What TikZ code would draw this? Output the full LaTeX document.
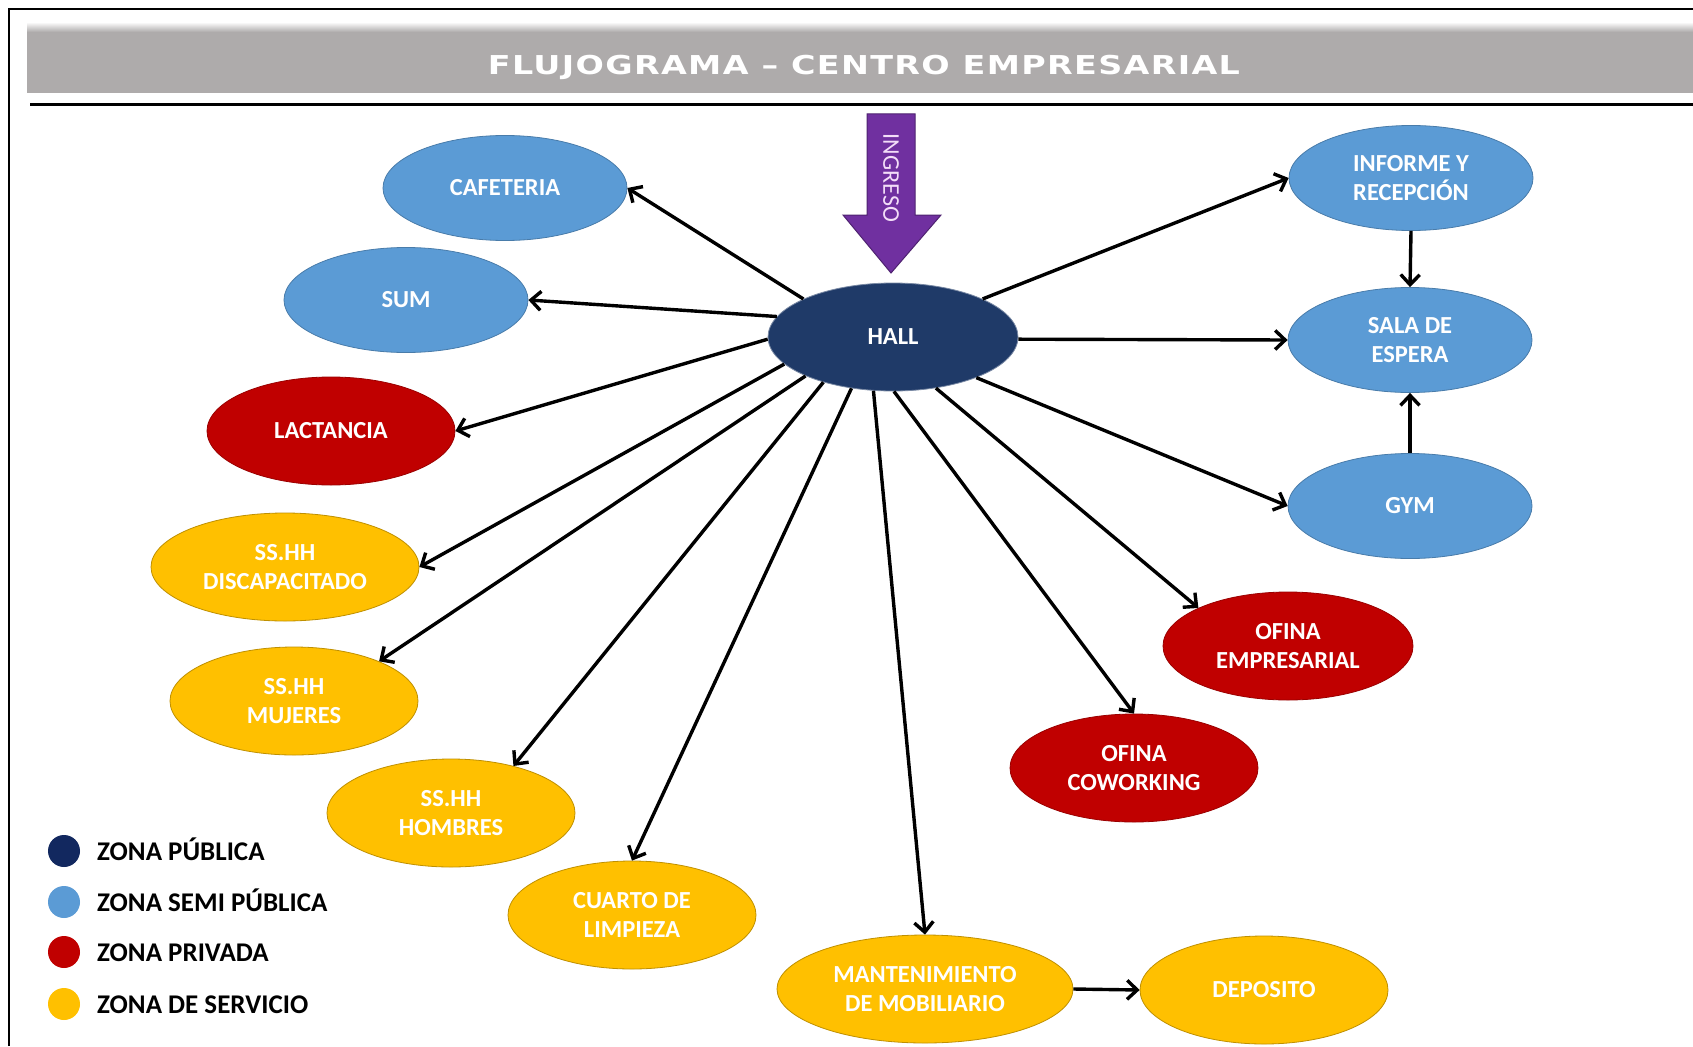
\documentclass[tikz,border=0pt]{standalone}
\usepackage{graphicx}
\usepackage{fontspec}
\setmainfont{Carlito}
\newfontfamily\titlefont[LetterSpace=4]{DejaVu Sans}
\usetikzlibrary{shapes.geometric,arrows.meta}
\definecolor{pubc}{HTML}{12285F}
\definecolor{hallc}{HTML}{1F3A68}
\definecolor{semic}{HTML}{5B9BD5}
\definecolor{privc}{HTML}{C00000}
\definecolor{servc}{HTML}{FFC000}
\definecolor{ingc}{HTML}{7030A0}
\definecolor{ingtext}{HTML}{F3DDF8}
\definecolor{barc}{HTML}{AEABAB}
\begin{document}
\begin{tikzpicture}[x=1pt,y=-1pt,
  zone/.style={ellipse, inner sep=0pt, minimum width=248pt, minimum height=108pt, align=center, text=white, font=\bfseries\fontsize{24.5}{29}\selectfont, line width=0.8pt},
  semi/.style={zone, fill=semic, draw=semic!80!black, minimum width=244pt, minimum height=105pt},
  priv/.style={zone, fill=privc, draw=privc!80!black},
  serv/.style={zone, fill=servc, draw=servc!75!black},
  flow/.style={line width=3.4pt, -{Straight Barb[length=10pt,width=19pt]}},
  legdot/.style={circle, inner sep=0pt, minimum size=32pt},
  legtxt/.style={anchor=base west, inner sep=0pt, font=\bfseries\fontsize{27}{30}\selectfont}
]
\useasboundingbox (0,0) rectangle (1693,1046);
\fill[white] (0,0) rectangle (1693,1046);
% frame
\draw[line width=1.6pt] (9,1046) -- (9,9) -- (1693,9);
% title bar
\shade[top color=white, bottom color=barc] (27,22) rectangle (1693,32);
\fill[barc] (27,32) rectangle (1693,93);
\draw[line width=3pt] (30,105) -- (1693,105);
\node[text=white, inner sep=0pt] (title) at (864,67) {\resizebox{752pt}{\height}{\titlefont\bfseries\fontsize{26}{26}\selectfont FLUJOGRAMA – CENTRO EMPRESARIAL}};
% ingreso arrow
\filldraw[fill=ingc, draw=ingc!70!black, line width=1pt] (867,114) -- (915,114) -- (915,215) -- (941,215) -- (891,273) -- (843,215) -- (867,215) -- cycle;
\node[rotate=-90, text=ingtext, inner sep=0pt, font=\fontsize{24}{24}\selectfont] (ingreso) at (891,178) {INGRESO};
% nodes
\node[zone, fill=hallc, draw=hallc!60!white, minimum width=250pt, minimum height=108pt] (hall) at (893,337) {HALL};
\node[semi] (cafe) at (505,188) {CAFETERIA};
\node[semi] (sum) at (406,300) {SUM};
\node[priv] (lact) at (331,431) {LACTANCIA};
\node[serv, minimum width=268pt] (disc) at (285,567) {SS.HH\\DISCAPACITADO};
\node[serv] (muj) at (294,701) {SS.HH\\MUJERES};
\node[serv] (homb) at (451,813) {SS.HH\\HOMBRES};
\node[serv] (cuarto) at (632,915) {CUARTO DE\\LIMPIEZA};
\node[serv, minimum width=296pt] (mant) at (925,989) {MANTENIMIENTO\\DE MOBILIARIO};
\node[serv] (dep) at (1264,990) {DEPOSITO};
\node[priv] (cow) at (1134,768) {OFINA\\COWORKING};
\node[priv, minimum width=250pt] (emp) at (1288,646) {OFINA\\EMPRESARIAL};
\node[semi] (gym) at (1410,506) {GYM};
\node[semi] (sala) at (1410,340) {SALA DE\\ESPERA};
\node[semi] (inf) at (1411,178) {INFORME Y\\RECEPCIÓN};
% connectors
\draw[flow] (hall.157) -- (cafe.east);
\draw[flow] (hall.170) -- (sum.east);
\draw[flow] (hall.181) -- (lact.east);
\draw[flow] (hall.194) -- (disc.east);
\draw[flow] (hall.204) -- (muj.25);
\draw[flow] (hall.213) -- (homb.37);
\draw[flow] (hall.231) -- (cuarto.north);
\draw[flow] (hall.250) -- (mant.north);
\draw[flow] (hall.271) -- (cow.north);
\draw[flow] (hall.310) -- (emp.157);
\draw[flow] (hall.334) -- (gym.west);
\draw[flow] (hall.359) -- (sala.west);
\draw[flow] (hall.23) -- (inf.west);
\draw[flow] (inf.south) -- (sala.north);
\draw[flow] (gym.north) -- (sala.south);
\draw[flow] (mant.east) -- (dep.west);
% legend
\node[legdot, fill=pubc] (l1) at (64,851) {};
\node[legdot, fill=semic] (l2) at (64,902) {};
\node[legdot, fill=privc] (l3) at (64,952) {};
\node[legdot, fill=servc] (l4) at (64,1004) {};
\node[legtxt] (t1) at (97,860) {ZONA PÚBLICA};
\node[legtxt] (t2) at (97,911) {ZONA SEMI PÚBLICA};
\node[legtxt] (t3) at (97,961) {ZONA PRIVADA};
\node[legtxt] (t4) at (97,1013) {ZONA DE SERVICIO};
\end{tikzpicture}
\end{document}
